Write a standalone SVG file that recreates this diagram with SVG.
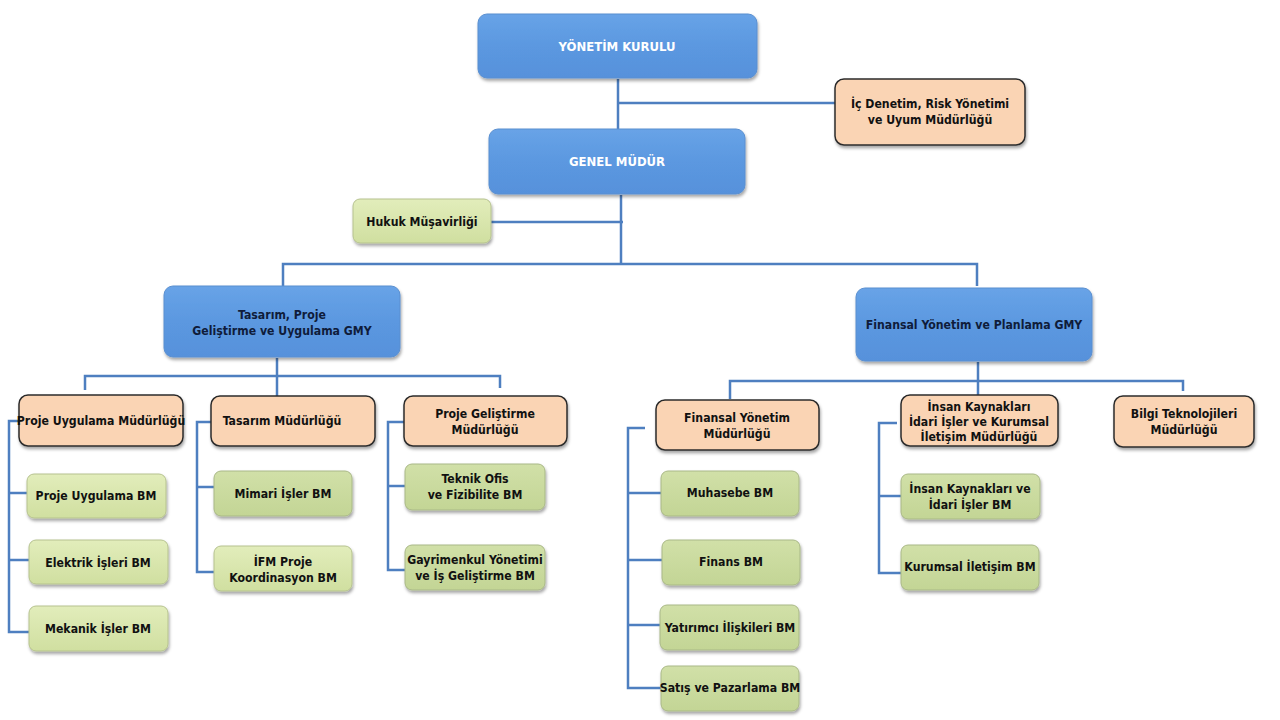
<svg xmlns="http://www.w3.org/2000/svg" width="1280" height="720" viewBox="0 0 1280 720">
<defs>
<linearGradient id="gBlue" x1="0" y1="0" x2="0" y2="1">
<stop offset="0" stop-color="#68a3e7"/><stop offset="0.5" stop-color="#5b98e0"/><stop offset="1" stop-color="#5791db"/>
</linearGradient>
<linearGradient id="gGreen" x1="0" y1="0" x2="0" y2="1">
<stop offset="0" stop-color="#e2edbb"/><stop offset="1" stop-color="#d0dfa0"/>
</linearGradient>
<linearGradient id="gGreen2" x1="0" y1="0" x2="0" y2="1">
<stop offset="0" stop-color="#d1e0a8"/><stop offset="1" stop-color="#c3d595"/>
</linearGradient>
<filter id="sh" x="-10%" y="-10%" width="125%" height="140%">
<feDropShadow dx="1" dy="2.5" stdDeviation="1.6" flood-color="#000" flood-opacity="0.35"/>
</filter>
</defs>
<style>
.blue{fill:url(#gBlue);stroke:#5a8fd0;stroke-width:1;filter:url(#sh)}
.peach{fill:#fad4b4;stroke:#2b2b2b;stroke-width:1.5;filter:url(#sh)}
.green{fill:url(#gGreen);stroke:#b6c28f;stroke-width:1;filter:url(#sh)}
.green2{fill:url(#gGreen2);stroke:#a9b887;stroke-width:1;filter:url(#sh)}
text{font-family:"DejaVu Sans Condensed","DejaVu Sans",sans-serif;font-weight:bold;font-size:12.2px;text-anchor:middle;fill:#111}
text.w{fill:#ffffff;font-size:13px}
text.n{fill:#0f1c3a}
.conn path{fill:none;stroke:#4e7fc0;stroke-width:2.5}
</style>
<rect width="1280" height="720" fill="#ffffff"/>

<g class="conn" id="connectors">
<path d="M618 79 V129"/>
<path d="M618 103 H835"/>
<path d="M621 195 V264"/>
<path d="M491 222 H623"/>
<path d="M283 289 V264 H977 V286"/>
<path d="M277 358 V396"/>
<path d="M85 390 V376 H500 V388"/>
<path d="M978 362 V398"/>
<path d="M730 399 V381 H1183 V391"/>
<path d="M19 421 H9 V632 H29"/>
<path d="M9 493 H27"/>
<path d="M9 560 H29"/>
<path d="M211 422 H197 V572 H214"/>
<path d="M197 487 H214"/>
<path d="M404 422 H388 V570 H405"/>
<path d="M388 486 H405"/>
<path d="M645 428 H628 V688 H661"/>
<path d="M628 493 H661"/>
<path d="M628 560 H662"/>
<path d="M628 625 H660"/>
<path d="M897 423 H879 V573 H901"/>
<path d="M879 496 H901"/>
</g>

<g id="yonetim-kurulu"><rect class="blue" x="478" y="14" width="279" height="64" rx="9"/><text class="w" x="617" y="51">YÖNETİM KURULU</text></g>
<g id="ic-denetim"><rect class="peach" x="835" y="79" width="190" height="66" rx="9"/><text x="930" y="108">İç Denetim, Risk Yönetimi</text><text x="930" y="124">ve Uyum Müdürlüğü</text></g>
<g id="genel-mudur"><rect class="blue" x="489" y="129" width="256" height="65" rx="9"/><text class="w" x="617" y="166">GENEL MÜDÜR</text></g>
<g id="hukuk"><rect class="green" x="353" y="199" width="138" height="44" rx="7"/><text x="422" y="226">Hukuk Müşavirliği</text></g>

<g id="tasarim-gmy"><rect class="blue" x="164" y="286" width="236" height="71" rx="9"/><text class="n" x="282" y="319">Tasarım, Proje</text><text class="n" x="282" y="335">Geliştirme ve Uygulama GMY</text></g>
<g id="finansal-gmy"><rect class="blue" x="856" y="288" width="236" height="73" rx="9"/><text class="n" x="974" y="329">Finansal Yönetim ve Planlama GMY</text></g>

<g id="proje-uygulama-md"><rect class="peach" x="19" y="395" width="164" height="51" rx="9"/><text x="101" y="425">Proje Uygulama Müdürlüğü</text></g>
<g id="tasarim-md"><rect class="peach" x="211" y="396" width="164" height="50" rx="9"/><text x="282" y="425">Tasarım Müdürlüğü</text></g>
<g id="proje-gelistirme-md"><rect class="peach" x="404" y="396" width="163" height="50" rx="9"/><text x="485" y="418">Proje  Geliştirme</text><text x="485" y="434">Müdürlüğü</text></g>

<g id="proje-uygulama-bm"><rect class="green" x="27" y="474" width="139" height="44" rx="7"/><text x="96" y="500">Proje Uygulama BM</text></g>
<g id="elektrik-bm"><rect class="green" x="29" y="540" width="139" height="44" rx="7"/><text x="98" y="567">Elektrik İşleri BM</text></g>
<g id="mekanik-bm"><rect class="green" x="29" y="606" width="139" height="45" rx="7"/><text x="98" y="633">Mekanik İşler BM</text></g>

<g id="mimari-bm"><rect class="green2" x="214" y="471" width="138" height="45" rx="7"/><text x="283" y="498">Mimari İşler BM</text></g>
<g id="ifm-bm"><rect class="green" x="214" y="546" width="138" height="45" rx="7"/><text x="283" y="566">İFM Proje</text><text x="283" y="582">Koordinasyon BM</text></g>

<g id="teknik-ofis-bm"><rect class="green2" x="405" y="464" width="140" height="46" rx="7"/><text x="475" y="483">Teknik Ofis</text><text x="475" y="499">ve Fizibilite  BM</text></g>
<g id="gayrimenkul-bm"><rect class="green2" x="405" y="545" width="140" height="45" rx="7"/><text x="475" y="564">Gayrimenkul Yönetimi</text><text x="475" y="580">ve İş Geliştirme BM</text></g>

<g id="finansal-yonetim-md"><rect class="peach" x="656" y="400" width="163" height="50" rx="9"/><text x="737" y="422">Finansal Yönetim</text><text x="737" y="438">Müdürlüğü</text></g>
<g id="ik-md"><rect class="peach" x="901" y="395" width="157" height="51" rx="9"/><text x="979" y="411">İnsan Kaynakları</text><text x="979" y="426">İdari İşler ve Kurumsal</text><text x="979" y="441">İletişim  Müdürlüğü</text></g>
<g id="bilgi-md"><rect class="peach" x="1114" y="396" width="140" height="51" rx="9"/><text x="1184" y="418">Bilgi  Teknolojileri</text><text x="1184" y="434">Müdürlüğü</text></g>

<g id="muhasebe-bm"><rect class="green2" x="661" y="471" width="138" height="45" rx="7"/><text x="730" y="497">Muhasebe BM</text></g>
<g id="finans-bm"><rect class="green2" x="662" y="540" width="138" height="45" rx="7"/><text x="731" y="566">Finans BM</text></g>
<g id="yatirimci-bm"><rect class="green2" x="660" y="605" width="139" height="45" rx="7"/><text x="730" y="632">Yatırımcı İlişkileri BM</text></g>
<g id="satis-bm"><rect class="green2" x="661" y="666" width="138" height="45" rx="7"/><text x="730" y="692">Satış ve Pazarlama BM</text></g>

<g id="ik-idari-bm"><rect class="green2" x="901" y="474" width="139" height="45" rx="7"/><text x="970" y="493">İnsan Kaynakları ve</text><text x="970" y="509">İdari İşler BM</text></g>
<g id="kurumsal-bm"><rect class="green2" x="901" y="545" width="138" height="45" rx="7"/><text x="970" y="571">Kurumsal İletişim  BM</text></g>
</svg>
